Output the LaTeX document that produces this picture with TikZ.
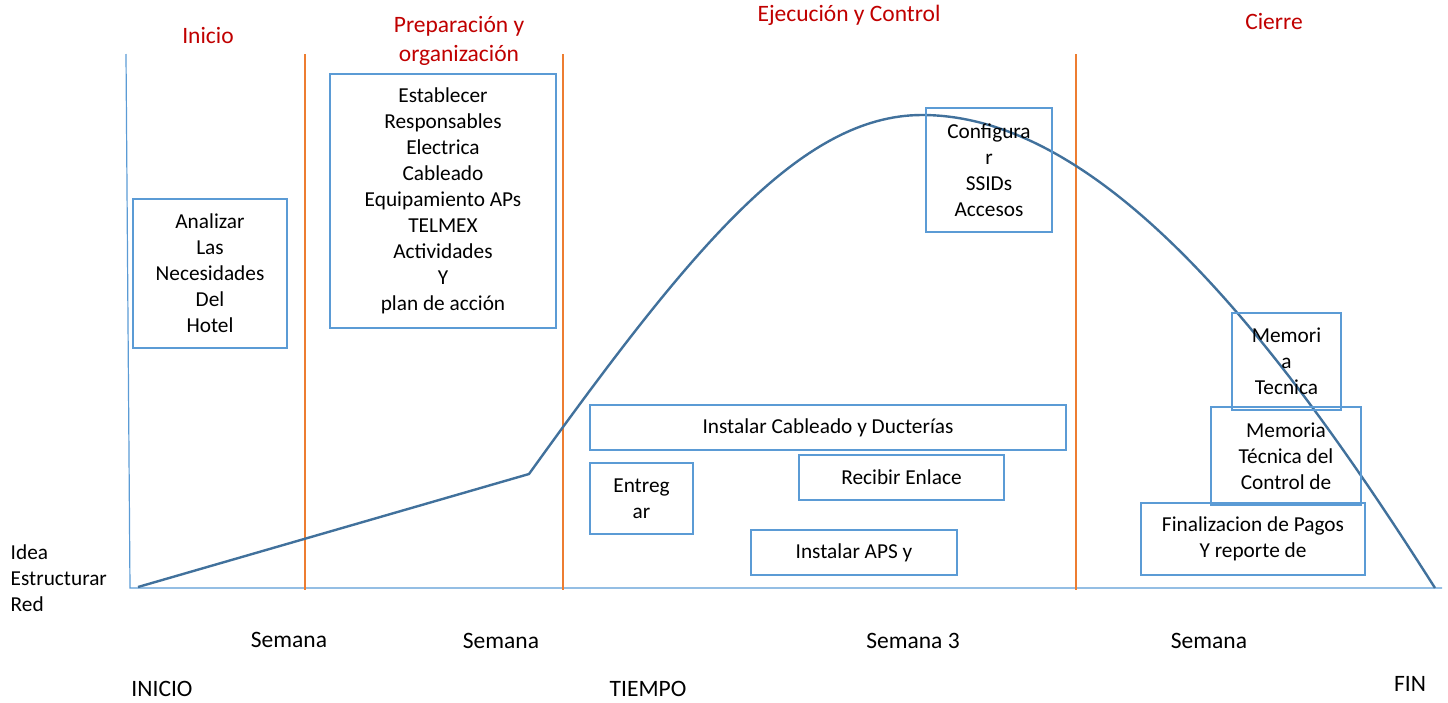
\documentclass[tikz,border=0pt]{standalone}
\usepackage{fontspec}
\setmainfont{Carlito}
\definecolor{azul}{HTML}{5B9BD5}
\definecolor{naranja}{HTML}{ED7D31}
\definecolor{curvaazul}{HTML}{41719C}
\definecolor{rojo}{HTML}{C00000}
\tikzset{
	caja/.style={draw=azul, line width=1.4pt, inner sep=0pt, align=center, font=\fontsize{21.3}{26}\selectfont},
	fase/.style={text=rojo, align=center, font=\fontsize{23.5}{29}\selectfont},
	etiqueta/.style={font=\fontsize{23.5}{29}\selectfont},
	eje/.style={azul, line width=1.2pt},
	corte/.style={naranja, line width=1.2pt},
	curva/.style={curvaazul, line width=2.4pt, line join=round}
}
\begin{document}
\begin{tikzpicture}[x=1pt, y=-1pt]
		\useasboundingbox (0,0) rectangle (1448,702);
		% ejes
		\draw[eje] (126,54) -- (130,588) -- (1442,588);
		\draw[corte] (305,54) -- (305,590);
		\draw[corte] (563,54) -- (563,590);
		\draw[corte] (1076,54) -- (1076,590);
		
		% fases
		\node[fase] (inicio) at (208,35) {Inicio};
		\node[fase] (prep) at (459,41) {Preparación y\\organización};
		\node[fase] (ejec) at (849,15) {Ejecución y Control};
		\node[fase] (cierre) at (1274,21) {Cierre};
		
		% curva del proyecto
		\draw[curva] (138,587) -- (529,474) .. controls (690,250) and (800,115) .. (922,115)
			.. controls (1110,115) and (1290,360) .. (1435,588);
		
		% actividades
		\node[caja, minimum width=154pt, minimum height=149pt] (analizar) at (210,273.5) {Analizar\\Las\\Necesidades\\Del\\Hotel};
		\node[caja, minimum width=226pt, minimum height=254pt] (establecer) at (443,201) {Establecer\\Responsables\\Electrica\\Cableado\\Equipamiento APs\\TELMEX\\Actividades\\Y\\plan de acción};
		\node[caja, minimum width=126pt, minimum height=124pt] (configurar) at (989,170) {Configura\\r\\SSIDs\\Accesos};
		\node[caja, minimum width=476pt, minimum height=45pt] (cableado) at (828,427.5) {Instalar Cableado y Ducterías};
		\node[caja, minimum width=103pt, minimum height=71pt] (entregar) at (641.5,498.5) {Entreg\\ar};
		\node[caja, minimum width=205pt, minimum height=45pt] (enlace) at (901.5,477.5) {Recibir Enlace};
		\node[caja, minimum width=206pt, minimum height=45pt] (aps) at (854,552.5) {Instalar APS y};
		\node[caja, minimum width=109pt, minimum height=97pt] (memoria) at (1286.5,361.5) {Memori\\a\\Tecnica};
		\node[caja, minimum width=150pt, minimum height=98pt] (control) at (1286,456) {Memoria\\Técnica del\\Control de};
		\node[caja, minimum width=224pt, minimum height=72pt] (pagos) at (1253,539) {Finalizacion de Pagos\\Y reporte de};
		
		% etiquetas
		\node[caja, draw=none, align=left, anchor=west] (idea) at (10,578.5) {Idea\\Estructurar\\Red};
		\node[etiqueta] (sem1) at (289,640) {Semana};
		\node[etiqueta] (sem2) at (501,641) {Semana};
		\node[etiqueta] (sem3) at (913,641) {Semana 3};
		\node[etiqueta] (sem4) at (1209,641) {Semana};
		\node[etiqueta] (ini) at (162,689) {INICIO};
		\node[etiqueta] (tiempo) at (648,689) {TIEMPO};
		\node[etiqueta] (fin) at (1410,684) {FIN};
	\end{tikzpicture}
\end{document}
